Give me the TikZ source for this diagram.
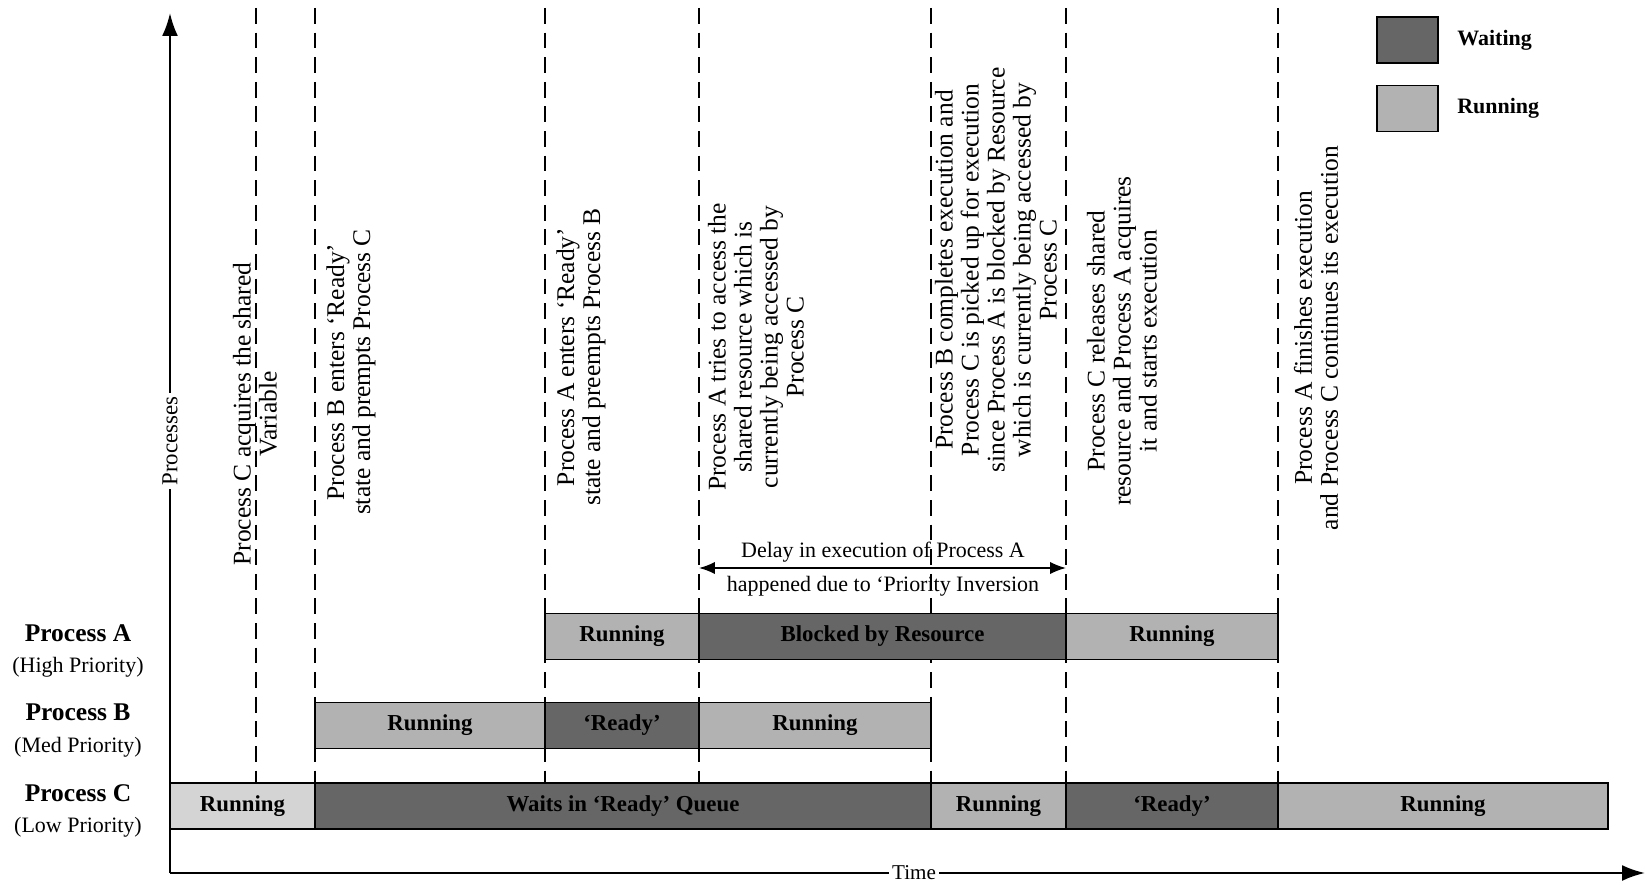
\documentclass[tikz,border=0pt]{standalone}
\usepackage{fontspec}
\setmainfont{Liberation Serif}
\definecolor{waitgray}{HTML}{666666}
\definecolor{rungray}{HTML}{B2B2B2}
\definecolor{runlight}{HTML}{D4D4D4}
\usetikzlibrary{positioning, arrows.meta, backgrounds}

\begin{document}
\begin{tikzpicture}[
  bar/.style={draw=black, line width=1pt, minimum height=0.92cm, inner sep=0pt,
              outer sep=0pt, font=\fontsize{13}{13}\selectfont\bfseries},
  waitbar/.style={bar, fill=waitgray},
  runbar/.style={bar, fill=rungray},
  event/.style={dash pattern=on 9pt off 5pt, line width=1.2pt},
  evlabel/.style={rotate=90, align=center, inner sep=0pt,
                  font=\fontsize{14.5}{14.8}\selectfont},
  rowlabel/.style={align=center, inner sep=0pt, font=\fontsize{12.5}{18}\selectfont},
  legtext/.style={inner sep=0pt, font=\fontsize{12.5}{13}\selectfont\bfseries},
  axis/.style={line width=1.3pt},
]
\useasboundingbox (0,0) rectangle (32.94,17.66);

% axes
\coordinate (origin) at (3.40,0.20);
\coordinate (ytop) at (3.40,17.40);
\coordinate (xend) at (32.90,0.20);
\draw[axis, -{Latex[length=13pt, width=9pt]}] (origin) -- (ytop);
\draw[axis, -{Latex[length=13pt, width=9pt]}] (origin) -- (xend);
\node[fill=white, rotate=90, inner sep=2pt, font=\fontsize{13}{13}\selectfont] (ylab) at (3.40,8.84) {Processes};
\node[fill=white, inner sep=2pt, font=\fontsize{12}{12}\selectfont] (xlab) at (18.28,0.20) {Time};

% process rows
\node[rowlabel] (rowA) at (1.56,4.64) {{\fontsize{14.5}{18}\selectfont\bfseries Process A}\\(High Priority)};
\node[rowlabel] (rowB) at (1.56,3.05) {{\fontsize{14.5}{18}\selectfont\bfseries Process B}\\(Med Priority)};
\node[rowlabel] (rowC) at (1.56,1.44) {{\fontsize{14.5}{18}\selectfont\bfseries Process C}\\(Low Priority)};

\node[runbar, minimum width=3.08cm, anchor=west] (aRun1) at (10.90,4.93) {Running};
\node[waitbar, minimum width=7.34cm, right=0pt of aRun1] (aBlock) {Blocked by Resource};
\node[runbar, minimum width=4.24cm, right=0pt of aBlock] (aRun2) {Running};

\node[runbar, minimum width=4.60cm, anchor=west] (bRun1) at (6.30,3.15) {Running};
\node[waitbar, minimum width=3.08cm, right=0pt of bRun1] (bReady) {`Ready'};
\node[runbar, minimum width=4.64cm, right=0pt of bReady] (bRun2) {Running};

\node[runbar, fill=runlight, minimum width=2.90cm, anchor=west] (cRun1) at (3.40,1.54) {Running};
\node[waitbar, minimum width=12.32cm, right=0pt of cRun1] (cWait) {Waits in `Ready' Queue};
\node[runbar, minimum width=2.70cm, right=0pt of cWait] (cRun2) {Running};
\node[waitbar, minimum width=4.24cm, right=0pt of cRun2] (cReady) {`Ready'};
\node[runbar, minimum width=6.60cm, right=0pt of cReady] (cRun3) {Running};

% event lines
\begin{scope}[on background layer]
  \foreach \x [count=\i] in {5.12, 6.30, 10.90, 13.98, 18.62, 21.32, 25.56} {
    \coordinate (ev\i) at (\x,17.50);
    \draw[event] (ev\i) -- (ev\i |- cRun1.north);
  }
\end{scope}

\node[evlabel] (evA) at (5.10,9.38) {Process C acquires the shared\\Variable};
\node[evlabel] (evB) at (7.02,10.22) {Process B enters `Ready'\\state and prempts Process C};
\node[evlabel] (evC) at (11.62,10.52) {Process A enters `Ready'\\state and preempts Process B};
\node[evlabel] (evD) at (15.12,10.72) {Process A tries to access the\\shared resource which is\\currently being accessed by\\Process C};
\node[evlabel] (evE) at (19.92,12.26) {Process B completes execution and\\Process C is picked up for execution\\since Process A is blocked by Resource\\which is currently being accessed by\\Process C};
\node[evlabel] (evF) at (22.44,10.84) {Process C releases shared\\resource and Process A acquires\\it and starts execution};
\node[evlabel] (evG) at (26.32,10.90) {Process A finishes execution\\and Process C continues its execution};

% priority inversion delay
\coordinate (delayL) at (13.98,6.30);
\coordinate (delayR) at (21.32,6.30);
\draw[{Latex[length=9pt, width=7pt]}-{Latex[length=9pt, width=7pt]}, line width=1pt] (delayL) -- (delayR);
\node[font=\fontsize{12.5}{13}\selectfont, inner sep=0pt] (delayTop) at (17.66,6.62) {Delay in execution of Process A};
\node[font=\fontsize{12.5}{13}\selectfont, inner sep=0pt] (delayBot) at (17.66,5.94) {happened due to `Priority Inversion};

% legend
\node[bar, fill=waitgray, minimum width=1.22cm] (legWait) at (28.15,16.86) {};
\node[legtext, right=0.38cm of legWait] (legWaitTxt) {Waiting};
\node[bar, fill=rungray, minimum width=1.22cm] (legRun) at (28.15,15.49) {};
\node[legtext, right=0.38cm of legRun] (legRunTxt) {Running};
\end{tikzpicture}
\end{document}
